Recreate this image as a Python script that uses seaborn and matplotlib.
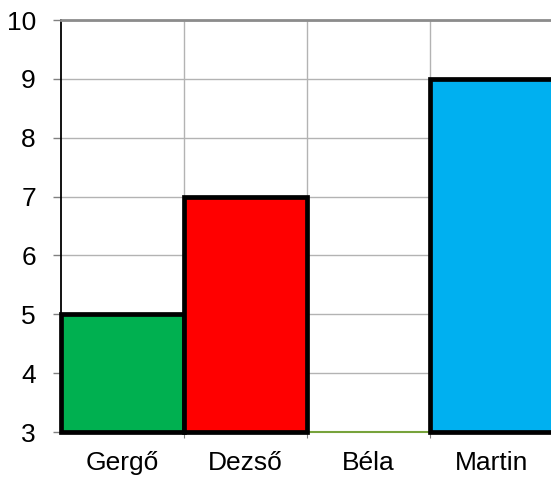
import matplotlib
matplotlib.use("Agg")
import matplotlib.pyplot as plt
import seaborn as sns
import pandas as pd
import numpy as np

names = ["Gergő", "Dezső", "Béla", "Martin"]
values = [5, 7, 3, 9]
colors = ["#00B050", "#FF0000", "#FFFFFF", "#00B0F0"]
y_ticks = [3, 4, 5, 6, 7, 8, 9, 10]

sns.set_theme(style="white")
plt.rcParams['font.family'] = ['Liberation Sans', 'DejaVu Sans']

fig = plt.figure(figsize=(5.51, 4.78), dpi=100)
ax = fig.add_axes([61/551, 46/478, 492/551, 412/478])

df = pd.DataFrame({"name": names, "value": np.array(values) - 3})
sns.barplot(data=df, x="name", y="value", hue="name", palette=colors,
            width=1.0, bottom=3, edgecolor="black", linewidth=3.4,
            legend=False, ax=ax, zorder=3, saturation=1)
for p, n in zip(ax.patches, names):
    p.set_clip_on(False)
    if n == "Béla":
        p.set_edgecolor("#77a33b")
        p.set_linewidth(1.5)
        p.set_zorder(2)

ax.set_ylim(3, 10)
ax.set_xlim(-0.5, 3.5)
ax.set_yticks(y_ticks)
ax.set_xticks(range(len(names)))
ax.set_xticklabels(names)
ax.set_xticks([0.5, 1.5, 2.5, 3.5], minor=True)
ax.set_xlabel("")
ax.set_ylabel("")

ax.tick_params(axis="x", which="major", length=0, pad=14, labelsize=19, colors="black")
ax.tick_params(axis="x", which="minor", bottom=True, length=4, width=0.8, color="#808080")
ax.tick_params(axis="y", which="major", left=True, length=6, width=1, pad=12,
               labelsize=19, colors="black", color="#808080")

ax.grid(True, axis="y", which="major", color="#b3b3b3", linewidth=1, zorder=0)
ax.grid(True, axis="x", which="minor", color="#b3b3b3", linewidth=1, zorder=0)
ax.grid(False, axis="x", which="major")
ax.set_axisbelow(True)

for s in ["right", "bottom"]:
    ax.spines[s].set_visible(False)
ax.spines["left"].set_color("black")
ax.spines["left"].set_linewidth(1.3)
ax.spines["top"].set_color("#8c8c8c")
ax.spines["top"].set_linewidth(2)

fig.savefig("out.png", dpi=100)
